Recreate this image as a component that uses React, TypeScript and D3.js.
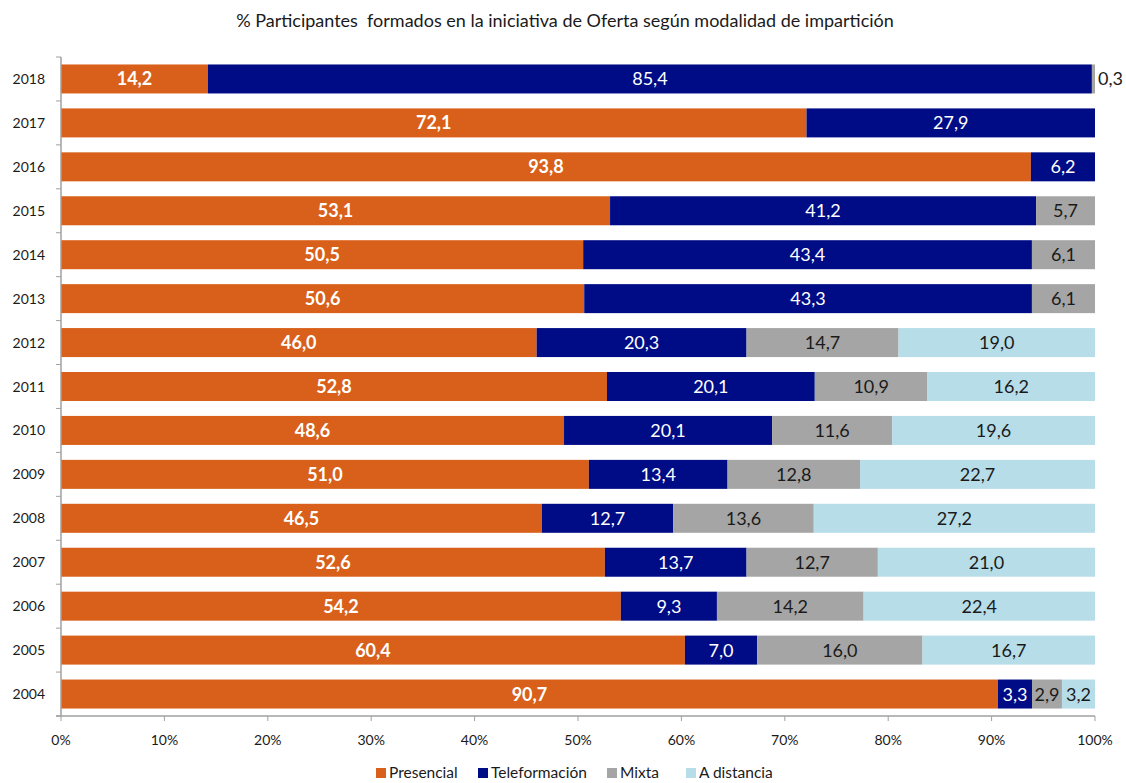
import React, { useRef, useEffect } from 'react';
import * as d3 from 'd3';

const years = ['2018', '2017', '2016', '2015', '2014', '2013', '2012', '2011', '2010', '2009', '2008', '2007', '2006', '2005', '2004'];
const series = ['Presencial', 'Teleformación', 'Mixta', 'A distancia'];
const presencial = [14.2, 72.1, 93.8, 53.1, 50.5, 50.6, 46.0, 52.8, 48.6, 51.0, 46.5, 52.6, 54.2, 60.4, 90.7];
const teleformacion = [85.4, 27.9, 6.2, 41.2, 43.4, 43.3, 20.3, 20.1, 20.1, 13.4, 12.7, 13.7, 9.3, 7.0, 3.3];
const mixta = [0.3, 0, 0, 5.7, 6.1, 6.1, 14.7, 10.9, 11.6, 12.8, 13.6, 12.7, 14.2, 16.0, 2.9];
const distancia = [0, 0, 0, 0, 0, 0, 19.0, 16.2, 19.6, 22.7, 27.2, 21.0, 22.4, 16.7, 3.2];
const xTicks = [0, 0.1, 0.2, 0.3, 0.4, 0.5, 0.6, 0.7, 0.8, 0.9, 1];

const colors = ['#D9601A', '#000C86', '#A5A5A5', '#B7DDE8'];
const labelColors = ['#FFFFFF', '#FFFFFF', '#1A1A1A', '#1A1A1A'];
const font = 'Lato, "Open Sans", sans-serif';

const App = () => {
  const svgRef = useRef<SVGSVGElement>(null);

  useEffect(() => {
    const svg = d3.select(svgRef.current);
    svg.selectAll('*').remove();

    const left = 61, right = 1095, top = 57, bottom = 716;
    const values = [presencial, teleformacion, mixta, distancia];
    const rows = years.map((y, i) => {
      const v = values.map(s => s[i]);
      const total = d3.sum(v);
      return { year: y, v, total };
    });

    const x = d3.scaleLinear().domain([0, 1]).range([left, right]);
    const y = d3.scaleBand().domain(years).range([top, bottom]).paddingInner(0.34).paddingOuter(0.17);

    // title
    svg.append('text')
      .attr('x', 565).attr('y', 27)
      .attr('text-anchor', 'middle')
      .attr('font-family', font).attr('font-size', 18)
      .attr('fill', '#1A1A1A')
      .attr('xml:space', 'preserve')
      .text('% Participantes  formados en la iniciativa de Oferta según modalidad de impartición');

    // bars
    rows.forEach(r => {
      let acc = 0;
      r.v.forEach((val, k) => {
        if (val <= 0) return;
        const x0 = x(acc / r.total);
        acc += val;
        const x1 = x(acc / r.total);
        svg.append('rect')
          .attr('x', x0).attr('y', y(r.year)!)
          .attr('width', x1 - x0).attr('height', y.bandwidth())
          .attr('fill', colors[k]);
        const outside = x1 - x0 < 10;
        svg.append('text')
          .attr('x', outside ? x1 + 3 : (x0 + x1) / 2)
          .attr('y', y(r.year)! + y.bandwidth() / 2)
          .attr('dy', '0.36em')
          .attr('text-anchor', outside ? 'start' : 'middle')
          .attr('font-family', font)
          .attr('font-size', 18)
          .attr('font-weight', k === 0 ? 'bold' : 'normal')
          .attr('fill', outside ? '#1A1A1A' : labelColors[k])
          .text(d3.format('.1f')(val).replace('.', ','));
      });
    });

    // y axis
    const axisColor = '#A0A0A0';
    svg.append('line').attr('x1', left).attr('x2', left).attr('y1', top).attr('y2', bottom)
      .attr('stroke', axisColor).attr('stroke-width', 1.5);
    const step = (bottom - top) / years.length;
    d3.range(years.length + 1).forEach(i => {
      svg.append('line').attr('x1', left - 5).attr('x2', left)
        .attr('y1', top + i * step).attr('y2', top + i * step)
        .attr('stroke', axisColor).attr('stroke-width', 1);
    });
    years.forEach(yr => {
      svg.append('text')
        .attr('x', 45).attr('y', y(yr)! + y.bandwidth() / 2)
        .attr('dy', '0.36em').attr('text-anchor', 'end')
        .attr('font-family', font).attr('font-size', 14)
        .attr('fill', '#1A1A1A').text(yr);
    });

    // x axis
    svg.append('line').attr('x1', left - 5).attr('x2', right).attr('y1', bottom).attr('y2', bottom)
      .attr('stroke', axisColor).attr('stroke-width', 1.5);
    xTicks.forEach(t => {
      svg.append('line').attr('x1', x(t)).attr('x2', x(t)).attr('y1', bottom).attr('y2', bottom + 5)
        .attr('stroke', axisColor).attr('stroke-width', 1);
      svg.append('text')
        .attr('x', x(t)).attr('y', 745).attr('text-anchor', 'middle')
        .attr('font-family', font).attr('font-size', 14)
        .attr('fill', '#1A1A1A').text(d3.format('.0%')(t));
    });

    // legend
    const legendX = [376, 478, 607, 686];
    series.forEach((s, k) => {
      svg.append('rect').attr('x', legendX[k]).attr('y', 768).attr('width', 10).attr('height', 10)
        .attr('fill', colors[k]);
      svg.append('text')
        .attr('x', legendX[k] + 13).attr('y', 778)
        .attr('font-family', font).attr('font-size', 15.5)
        .attr('fill', '#1A1A1A').text(s);
    });
  }, []);

  return (
    <div style={{ position: 'absolute', left: 0, top: 0 }}>
      <svg ref={svgRef} width={1126} height={783}></svg>
    </div>
  );
};

export default App;
